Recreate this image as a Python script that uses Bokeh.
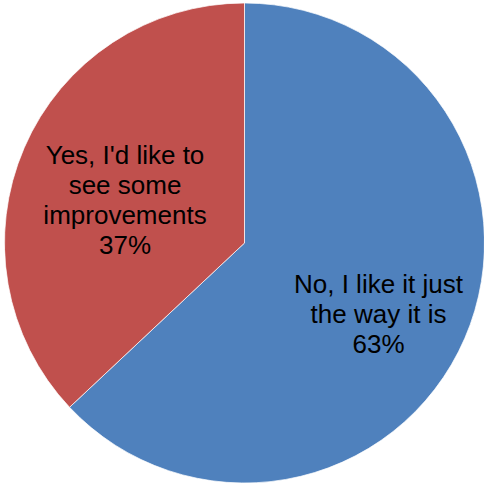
import math
from bokeh.plotting import figure
from bokeh.models import ColumnDataSource, Range1d
from bokeh.core.properties import value
from bokeh.embed import file_html
from bokeh.resources import INLINE

# Data
categories = ["No, I like it just the way it is", "Yes, I'd like to see some improvements"]
shares = [63, 37]
colors = ["#4F81BD", "#C0504D"]
label_lines = [
    ["No, I like it just", "the way it is", "63%"],
    ["Yes, I'd like to", "see some", "improvements", "37%"],
]

W, H = 484, 486
cx, cy, R = 244, H - 242.5, 240

total = sum(shares)
starts, ends = [], []
acc = 0.0
for s in shares:
    a0 = math.pi / 2 - 2 * math.pi * acc / total
    acc += s
    a1 = math.pi / 2 - 2 * math.pi * acc / total
    starts.append(a0)
    ends.append(a1)

src = ColumnDataSource(dict(cat=categories, start=starts, end=ends, color=colors))

p = figure(width=W, height=H, output_backend="svg", toolbar_location=None,
           x_range=Range1d(0, W), y_range=Range1d(0, H), min_border=0)
p.axis.visible = False
p.grid.visible = False
p.outline_line_color = None
p.background_fill_color = "white"
p.border_fill_color = "white"

p.wedge(x=cx, y=cy, radius=R, start_angle="start", end_angle="end", direction="clock",
        fill_color="color", line_color="white", line_width=0.7, source=src)

# label placement (pixel positions: center x, first baseline y, line step)
label_pos = [(378, 283), (124.5, 154)]
step = 30
for (lx, ly), lines in zip(label_pos, label_lines):
    xs = [lx] * len(lines)
    ys = [H - (ly + i * step) for i in range(len(lines))]
    p.text(x=xs, y=ys, text=lines, text_align="center", text_baseline="alphabetic",
           text_font=value("Liberation Sans"), text_font_size="26px", text_color="black")

open("out.html", "w").write(file_html(p, INLINE))
